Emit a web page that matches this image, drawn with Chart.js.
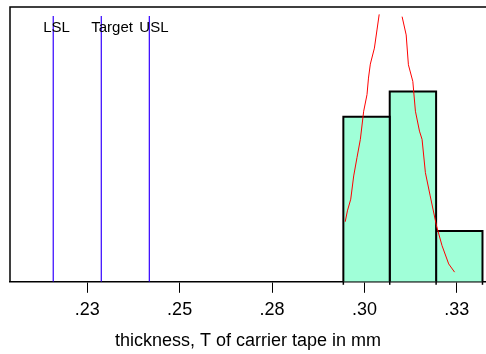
<!DOCTYPE html>
<html>
<head>
<meta charset="utf-8">
<script src="https://cdn.jsdelivr.net/npm/chart.js@4"></script>
<style>
  html, body { margin: 0; padding: 0; background: #fff; }
  #wrap { width: 486px; height: 354px; position: relative; }
</style>
</head>
<body>
<div id="wrap"><canvas id="chart"></canvas></div>
<script>
// --- datos ---
const binEdges = [0.2943, 0.30685, 0.3194, 0.33195];
const binCounts = [13, 15, 4];

const specNames = ["LSL", "Target", "USL"];
const specValues = [0.2158, 0.2288, 0.2418];

// curva normal (rama izquierda, hueco arriba, rama derecha)
const curveX = [0.2948, 0.2954, 0.2963, 0.2971, 0.2980, 0.2989, 0.2998, 0.3007, 0.3011, 0.3016, 0.3027, 0.3034, 0.3040,
                0.3070,
                0.3102, 0.3113, 0.3119, 0.3131, 0.3138, 0.3149, 0.3156, 0.3165, 0.3178, 0.3195, 0.3210, 0.3228, 0.3244];
const curveY = [4.73, 5.59, 6.51, 8.34, 9.80, 11.22, 13.44, 14.75, 16.05, 17.15, 18.41, 19.84, 21.07,
                null,
                20.89, 19.45, 17.10, 15.79, 13.44, 11.87, 11.22, 8.60, 6.77, 4.42, 2.85, 1.41, 0.76];

const tickValues = [0.225, 0.25, 0.275, 0.30, 0.325];
const tickLabels = [".23", ".25", ".28", ".30", ".33"];

const xMin = 0.2041, xMax = 0.3329;
const yMax = 21.65;
const specTop = 20.94;

const FONT = "Arial, 'Liberation Sans', sans-serif";

// --- datasets ---
const datasets = [];

// barras del histograma como rectangulos
binCounts.forEach((c, i) => {
    const x0 = binEdges[i], x1 = binEdges[i + 1];
    datasets.push({
        type: "line",
        data: [{ x: x0, y: 0 }, { x: x0, y: c }, { x: x1, y: c }, { x: x1, y: 0 }],
        borderColor: "#000",
        borderWidth: 2,
        backgroundColor: "#a0ffd8",
        fill: "origin",
        pointRadius: 0,
        tension: 0,
        order: 3
    });
});

// lineas de especificacion
specValues.forEach(v => {
    datasets.push({
        type: "line",
        data: [{ x: v, y: 0 }, { x: v, y: specTop }],
        borderColor: "#3300ff",
        borderWidth: 1.2,
        pointRadius: 0,
        fill: false,
        order: 2
    });
});

// curva roja
datasets.push({
    type: "line",
    data: curveX.map((x, i) => ({ x: x, y: curveY[i] })),
    borderColor: "#ff0000",
    borderWidth: 1,
    pointRadius: 0,
    fill: false,
    spanGaps: false,
    tension: 0,
    order: 1
});

// --- plugin: marco y etiquetas LSL / Target / USL ---
const framePlugin = {
    id: "frame",
    afterDatasetsDraw(chart) {
        const { ctx, chartArea, scales } = chart;
        ctx.save();
        ctx.strokeStyle = "#000";
        ctx.lineWidth = 1.5;
        ctx.beginPath();
        ctx.moveTo(chartArea.left, chartArea.bottom);
        ctx.lineTo(chartArea.left, chartArea.top);
        ctx.lineTo(chartArea.right, chartArea.top);
        ctx.stroke();

        // marquitas bajo el eje en los bordes de las barras
        binEdges.forEach(e => {
            const px = scales.x.getPixelForValue(e);
            ctx.beginPath();
            ctx.moveTo(px, chartArea.bottom);
            ctx.lineTo(px, chartArea.bottom + 3);
            ctx.stroke();
        });

        ctx.fillStyle = "#000";
        ctx.font = "15px " + FONT;
        ctx.textAlign = "left";
        ctx.textBaseline = "middle";
        specValues.forEach((v, i) => {
            const px = scales.x.getPixelForValue(v);
            ctx.fillText(specNames[i], px - 10, 28);
        });
        ctx.restore();
    }
};

new Chart(document.getElementById("chart"), {
    type: "scatter",
    data: { datasets: datasets },
    options: {
        responsive: true,
        maintainAspectRatio: false,
        animation: false,
        layout: { padding: { left: 10, top: 7, right: 0, bottom: 2 } },
        plugins: {
            legend: { display: false },
            tooltip: { enabled: false }
        },
        scales: {
            x: {
                type: "linear",
                min: xMin,
                max: xMax,
                afterBuildTicks(scale) {
                    scale.ticks = tickValues.map(v => ({ value: v }));
                },
                ticks: {
                    color: "#000",
                    font: { size: 18, family: FONT },
                    padding: 6,
                    maxRotation: 0,
                    autoSkip: false,
                    callback: (val, idx) => tickLabels[idx]
                },
                grid: {
                    display: true,
                    drawOnChartArea: false,
                    drawTicks: true,
                    tickLength: 11,
                    color: "#000",
                    lineWidth: 1
                },
                border: { display: true, color: "#000", width: 1.5 },
                title: {
                    display: true,
                    text: "thickness, T of carrier tape in mm",
                    color: "#000",
                    font: { size: 18, family: FONT },
                    padding: { top: 4, bottom: 0 }
                }
            },
            y: {
                display: false,
                min: 0,
                max: yMax
            }
        }
    },
    plugins: [framePlugin]
});
</script>
</body>
</html>
